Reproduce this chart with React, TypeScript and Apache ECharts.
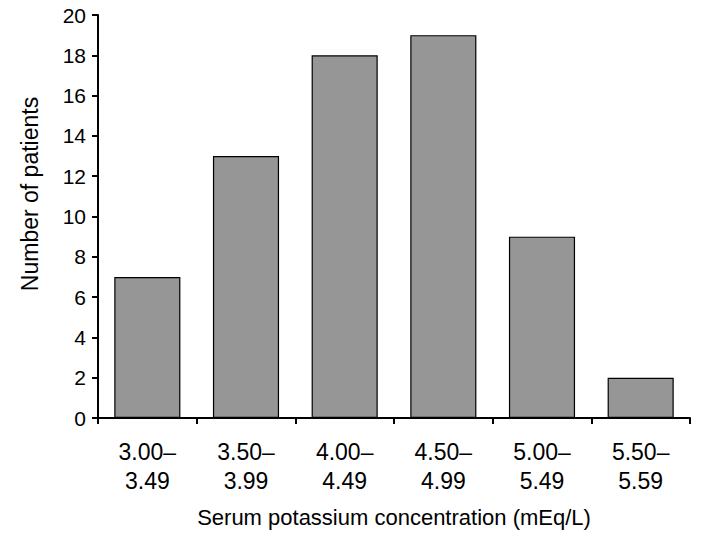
import React, { useEffect, useRef } from "react";
import * as echarts from "echarts";

const categories = ["3.00–\n3.49", "3.50–\n3.99", "4.00–\n4.49", "4.50–\n4.99", "5.00–\n5.49", "5.50–\n5.59"];
const patients = [7, 13, 18, 19, 9, 2];
const yTicks = { min: 0, max: 20, interval: 2 };
const xTitle = "Serum potassium concentration (mEq/L)";
const yTitle = "Number of patients";

const FONT = "Liberation Sans";

export default function App() {
  const ref = useRef<HTMLDivElement>(null);
  useEffect(() => {
    const chart = echarts.init(ref.current!, null, { renderer: "svg" });
    chart.setOption({
      animation: false,
      backgroundColor: "#ffffff",
      grid: { left: 98, right: 15, top: 15, bottom: 130, containLabel: false },
      xAxis: {
        type: "category",
        data: categories,
        name: xTitle,
        nameLocation: "middle",
        nameGap: 88,
        nameTextStyle: { fontFamily: FONT, fontSize: 22, color: "#000" },
        axisLine: { lineStyle: { color: "#000", width: 2 } },
        axisTick: { show: true, alignWithLabel: false, length: 6, lineStyle: { color: "#000", width: 2 } },
        axisLabel: { fontFamily: FONT, fontSize: 23, color: "#000", margin: 19, lineHeight: 29 },
      },
      yAxis: {
        type: "value",
        min: yTicks.min,
        max: yTicks.max,
        interval: yTicks.interval,
        axisLine: { show: true, lineStyle: { color: "#000", width: 2 } },
        axisTick: { show: true, length: 6, lineStyle: { color: "#000", width: 2 } },
        splitLine: { show: false },
        axisLabel: { fontFamily: FONT, fontSize: 21, color: "#000", margin: 12 },
      },
      graphic: [
        {
          type: "text",
          x: 30,
          y: 194,
          rotation: Math.PI / 2,
          style: {
            text: yTitle,
            fontFamily: FONT,
            fontSize: 23,
            fill: "#000",
            textAlign: "center",
            textVerticalAlign: "middle",
          },
        },
      ],
      series: [
        {
          type: "bar",
          data: patients,
          barCategoryGap: "33%",
          itemStyle: { color: "#969696", borderColor: "#000", borderWidth: 1.2 },
        },
      ],
    });
    return () => chart.dispose();
  }, []);
  return <div ref={ref} style={{ width: 705, height: 548, margin: -8 }} />;
}
